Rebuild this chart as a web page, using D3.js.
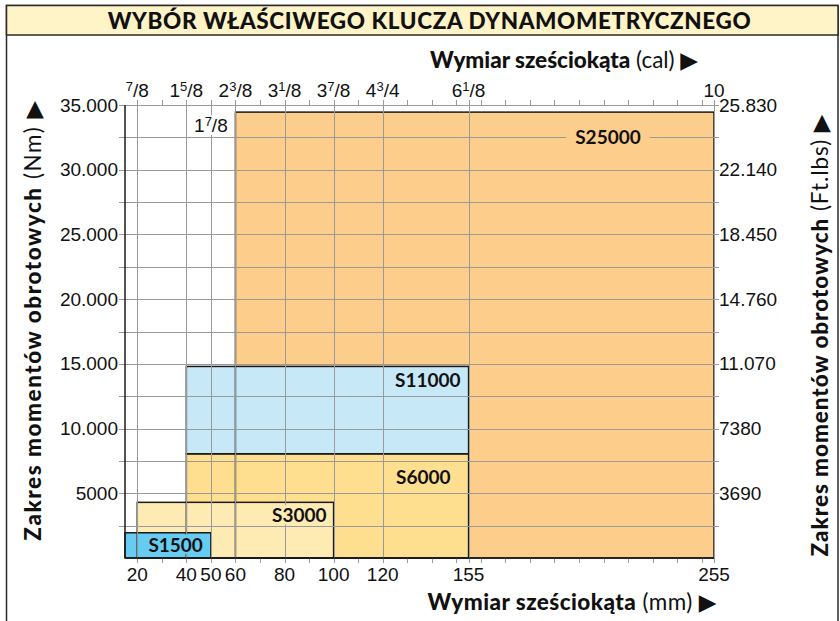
<!DOCTYPE html>
<html><head><meta charset="utf-8">
<script src="https://cdn.jsdelivr.net/npm/d3@7"></script>
<style>body{margin:0;background:#fff}svg{display:block}</style>
</head><body>
<svg id="c" width="840" height="621"></svg>
<script>
// ---- data ----
const chartTitle = "WYBÓR WŁAŚCIWEGO KLUCZA DYNAMOMETRYCZNEGO";
const series = ["S25000", "S6000", "S11000", "S3000", "S1500"];
const mmFrom = [60, 40, 40, 20, 15];
const mmTo = [255, 155, 155, 100, 50];
const nmFrom = [0, 0, 8050, 0, 0];
const nmTo = [34450, 8050, 14800, 4300, 1950];
const colors = ["#fdcd8b", "#fddf8f", "#c6e8f7", "#feebb4", "#66ccf1"];
const mmLabeled = [20, 40, 50, 60, 80, 100, 120, 155, 255];
const calLabels = ["7/8", "1 5/8", "1 7/8", "2 3/8", "3 1/8", "3 7/8", "4 3/4", "6 1/8", "10"];
const nmTicks = [5000, 10000, 15000, 20000, 25000, 30000, 35000];
const nmLabels = ["5000", "10.000", "15.000", "20.000", "25.000", "30.000", "35.000"];
const ftLabels = ["3690", "7380", "11.070", "14.760", "18.450", "22.140", "25.830"];

// ---- layout ----
const svg = d3.select("#c");
const x = d3.scaleLinear().domain([15, 255]).range([125, 714]);
const y = d3.scaleLinear().domain([0, 35000]).range([558, 105]);
const grid = "#9a9a9a";
const tickFont = "'Liberation Sans', Arial, sans-serif";
const titleFont = "Lato, 'Open Sans', sans-serif";
const tickSize = 19;

function fit(sel, target, nChars) {
  const w = sel.node().getComputedTextLength();
  sel.attr("letter-spacing", (target - w) / nChars);
}

// frame + title band
svg.append("rect").attr("x", 6.5).attr("y", 5.5).attr("width", 831.5).attr("height", 640)
  .attr("fill", "#fff").attr("stroke", "#2a2a2a").attr("stroke-width", 1.5);
svg.append("rect").attr("x", 6.5).attr("y", 5.5).attr("width", 831.5).attr("height", 29.5)
  .attr("fill", "#fff3c8").attr("stroke", "#2a2a2a").attr("stroke-width", 1.5);
const tt = svg.append("text").attr("x", 429.5).attr("y", 28.5).attr("text-anchor", "middle")
  .attr("font-family", titleFont).attr("font-weight", 900).attr("font-size", 22.5).attr("fill", "#111")
  .text(chartTitle);
fit(tt, 643, chartTitle.length - 1);

// bars
const idx = d3.range(series.length);
const gBars = svg.append("g");
gBars.selectAll("rect").data(idx).join("rect")
  .attr("x", i => x(mmFrom[i])).attr("y", i => y(nmTo[i]))
  .attr("width", i => x(mmTo[i]) - x(mmFrom[i])).attr("height", i => y(nmFrom[i]) - y(nmTo[i]))
  .attr("fill", i => colors[i]);

// gridlines
const gGrid = svg.append("g").attr("stroke", grid).attr("stroke-width", 1);
gGrid.selectAll("line.h").data(d3.range(2500, 35001, 2500)).join("line").attr("class", "h")
  .attr("x1", 119).attr("x2", 719).attr("y1", d => Math.round(y(d)) + 0.5).attr("y2", d => Math.round(y(d)) + 0.5);
gGrid.selectAll("line.v").data(mmLabeled).join("line").attr("class", "v")
  .attr("x1", d => Math.round(x(d)) + 0.5).attr("x2", d => Math.round(x(d)) + 0.5)
  .attr("y1", 101).attr("y2", 558);

// tick marks top & bottom
const mmMinor = d3.range(20, 251, 10).concat([155, 255]);
const gTicks = svg.append("g").attr("stroke", grid).attr("stroke-width", 1);
gTicks.selectAll("line.b").data(mmMinor).join("line").attr("class", "b")
  .attr("x1", d => Math.round(x(d)) + 0.5).attr("x2", d => Math.round(x(d)) + 0.5).attr("y1", 558).attr("y2", 563);
gTicks.selectAll("line.t").data(mmMinor).join("line").attr("class", "t")
  .attr("x1", d => Math.round(x(d)) + 0.5).attr("x2", d => Math.round(x(d)) + 0.5).attr("y1", 100).attr("y2", 105);

// bar outlines
gBars.append("g").selectAll("rect").data(idx).join("rect")
  .attr("x", i => x(mmFrom[i])).attr("y", i => y(nmTo[i]))
  .attr("width", i => x(mmTo[i]) - x(mmFrom[i])).attr("height", i => y(nmFrom[i]) - y(nmTo[i]))
  .attr("fill", "none").attr("stroke", "#1a1a1a").attr("stroke-width", 1.5);

// axis lines
svg.append("line").attr("x1", 125).attr("x2", 125).attr("y1", 105).attr("y2", 558).attr("stroke", "#1a1a1a").attr("stroke-width", 1.5);
svg.append("line").attr("x1", 125).attr("x2", 714).attr("y1", 558).attr("y2", 558).attr("stroke", "#1a1a1a").attr("stroke-width", 1.5);

// bar labels with background patches
const labelPos = [
  { ax: "middle", xr: i => x(211.8), yr: i => y(32500) + 6.5, pad: 9 },
  { ax: "end", xr: i => x(mmTo[i]) - 18, yr: i => y(nmTo[i]) + 30, pad: 3 },
  { ax: "end", xr: i => x(mmTo[i]) - 8, yr: i => y(nmTo[i]) + 21, pad: 3 },
  { ax: "end", xr: i => x(mmTo[i]) - 7, yr: i => y(nmTo[i]) + 20, pad: 3 },
  { ax: "end", xr: i => x(mmTo[i]) - 8, yr: i => y(nmTo[i]) + 19, pad: 3 }
];
idx.forEach(i => {
  const p = labelPos[i];
  const g = svg.append("g");
  const t = g.append("text").attr("x", p.xr(i)).attr("y", p.yr(i)).attr("text-anchor", p.ax)
    .attr("font-family", titleFont).attr("font-weight", 700).attr("font-size", 19).attr("fill", "#111")
    .text(series[i]);
  const b = t.node().getBBox();
  g.insert("rect", "text").attr("x", b.x - p.pad).attr("y", b.y + 2).attr("width", b.width + 2 * p.pad)
    .attr("height", b.height - 4).attr("fill", colors[i]);
});

// left labels
svg.append("g").selectAll("text").data(nmTicks).join("text")
  .attr("x", 118).attr("y", d => y(d) + 6.5).attr("text-anchor", "end")
  .attr("font-family", tickFont).attr("font-size", tickSize).attr("fill", "#111")
  .text((d, i) => nmLabels[i]);
// right labels
svg.append("g").selectAll("text").data(nmTicks).join("text")
  .attr("x", 719).attr("y", d => y(d) + 6.5).attr("text-anchor", "start")
  .attr("font-family", tickFont).attr("font-size", tickSize).attr("fill", "#111")
  .text((d, i) => ftLabels[i]);
// bottom labels
svg.append("g").selectAll("text").data(mmLabeled).join("text")
  .attr("x", d => x(d)).attr("y", 581).attr("text-anchor", "middle")
  .attr("font-family", tickFont).attr("font-size", tickSize).attr("fill", "#111")
  .text(d => d);
// top fraction labels
mmLabeled.forEach((mm, i) => {
  const lab = calLabels[i];
  let whole = "", num = "", den = "";
  if (lab.includes("/")) {
    const parts = lab.split(" ");
    const fr = parts[parts.length - 1].split("/");
    whole = parts.length > 1 ? parts[0] : "";
    num = fr[0]; den = fr[1];
  } else whole = lab;
  const inside = mm === 50;
  const g = svg.append("g");
  const t = g.append("text").attr("x", x(mm)).attr("y", inside ? 132 : 97).attr("text-anchor", "middle")
    .attr("font-family", tickFont).attr("font-size", tickSize).attr("fill", "#111");
  if (whole) t.append("tspan").text(whole);
  if (num) {
    t.append("tspan").attr("font-size", 13).attr("dy", -6).text(num);
    t.append("tspan").attr("dy", 6).text("/" + den);
  }
  if (inside) {
    const b = t.node().getBBox();
    g.insert("rect", "text").attr("x", b.x - 1).attr("y", b.y + 1).attr("width", b.width + 2).attr("height", b.height - 2).attr("fill", "#fff");
  }
});

// axis titles
function axisTitle(tx, ty, rot, anchor, bold, reg, target) {
  const t = svg.append("text").attr("transform", `translate(${tx},${ty}) rotate(${rot})`)
    .attr("text-anchor", anchor).attr("font-family", titleFont).attr("font-size", 22.5).attr("fill", "#111");
  t.append("tspan").attr("font-weight", 900).text(bold);
  t.append("tspan").attr("font-weight", 400).text(" " + reg + " ");
  t.append("tspan").attr("font-family", "'DejaVu Sans', sans-serif").attr("font-size", 23).text("▶");
  fit(t, target, (bold + reg).length + 2);
  return t;
}
axisTitle(698, 68, 0, "end", "Wymiar sześciokąta", "(cal)", 268);
axisTitle(717, 610, 0, "end", "Wymiar sześciokąta", "(mm)", 289);
axisTitle(41, 320, -90, "middle", "Zakres momentów obrotowych", "(Nm)", 440);
axisTitle(828, 335, -90, "middle", "Zakres momentów obrotowych", "(Ft.lbs)", 442);
</script>
</body></html>
